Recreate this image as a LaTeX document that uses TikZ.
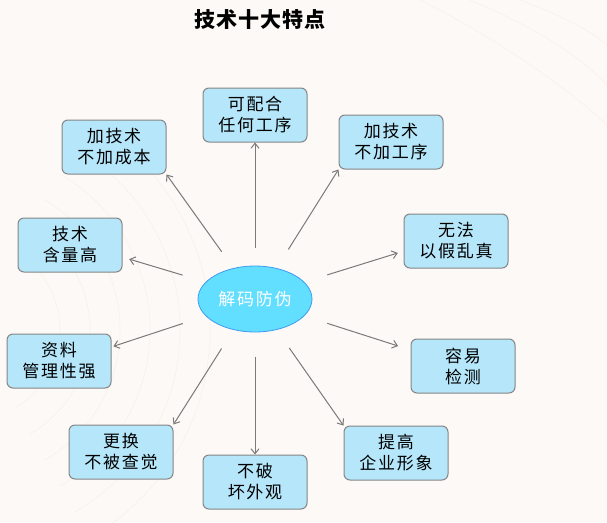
\documentclass[tikz,border=0pt]{standalone}
\usepackage{fontspec}
\setmainfont{Noto Sans CJK SC}[LetterSpace=10]
\newfontfamily\titulo{Noto Sans CJK SC}[LetterSpace=4]
\usetikzlibrary{shapes.geometric, arrows.meta}
\definecolor{fundo}{HTML}{FDF9F6}
\definecolor{traco}{HTML}{FAF2EA}
\definecolor{caixafill}{HTML}{B5E6FA}
\definecolor{borda}{HTML}{858585}
\definecolor{elipfill}{HTML}{62DEFF}
\definecolor{elipborda}{HTML}{3F9CF0}
\definecolor{cinzaseta}{HTML}{7A7A7A}
\begin{document}
\begin{tikzpicture}[x=1pt, y=-1pt,
  caixa/.style={draw=borda, fill=caixafill, rounded corners=6pt, line width=1pt,
    minimum width=104pt, minimum height=54pt, align=center, inner sep=2pt,
    font=\fontsize{17}{21}\selectfont},
  seta/.style={-{Straight Barb[length=5pt, width=8pt]}, draw=cinzaseta, line width=1pt},
  fio/.style={draw=traco, line width=0.7pt}]
  \fill[fundo] (0,0) rectangle (607,522);
  \useasboundingbox (0,0) rectangle (607,522);
  % fundo
  \foreach \r in {90,120,150,180,210,240}
    \draw[fio] (-30,330) ++(-60:\r) arc[start angle=-60, end angle=60, radius=\r];
  \draw[fio] (470,0) .. controls (530,25) and (580,55) .. (607,85);
  \draw[fio] (420,0) .. controls (500,40) and (570,90) .. (607,125);
  \draw[fio] (520,0) .. controls (560,15) and (590,30) .. (607,45);
  % titulo
  \node[font=\titulo\bfseries\fontsize{21}{25}\selectfont] (titulo) at (260,20) {技术十大特点};
  % centro
  \node[ellipse, draw=elipborda, fill=elipfill, line width=0.8pt, text=white,
    minimum width=114pt, minimum height=66pt, font=\fontsize{17}{21}\selectfont] (jiema) at (255,299) {解码防伪};
  % caixas
  \node[caixa] (peihe) at (255,115) {可配合\\任何工序};
  \node[caixa] (chengben) at (114,147) {加技术\\不加成本};
  \node[caixa] (gongxu) at (391,142) {加技术\\不加工序};
  \node[caixa] (hanliang) at (70,245) {技术\\含量高};
  \node[caixa] (wufa) at (456,241) {无法\\以假乱真};
  \node[caixa] (ziliao) at (59,361) {资料\\管理性强};
  \node[caixa] (rongyi) at (463,366) {容易\\检测};
  \node[caixa] (genghuan) at (121,452) {更换\\不被查觉};
  \node[caixa] (bupo) at (255,482) {不破\\坏外观};
  \node[caixa] (tigao) at (396,453) {提高\\企业形象};
  % setas
  \draw[seta, shorten <=20pt] (jiema.125) -- (chengben.south east);
  \draw[seta, shorten <=18pt] (jiema.north) -- (peihe.south);
  \draw[seta, shorten <=22pt] (jiema.55) -- (gongxu.south west);
  \draw[seta, shorten <=24pt, shorten >=7pt] (jiema.161) -- (hanliang.-13);
  \draw[seta, shorten <=24pt, shorten >=6pt] (jiema.19) -- (wufa.-169);
  \draw[seta, shorten <=24pt, shorten >=2pt] (jiema.199) -- (ziliao.15);
  \draw[seta, shorten <=24pt, shorten >=13pt] (jiema.-19) -- (rongyi.163);
  \draw[seta, shorten <=22pt] (jiema.-125) -- (genghuan.north east);
  \draw[seta, shorten <=25pt] (jiema.south) -- (bupo.north);
  \draw[seta, shorten <=22pt] (jiema.-55) -- (tigao.north west);
\end{tikzpicture}
\end{document}
